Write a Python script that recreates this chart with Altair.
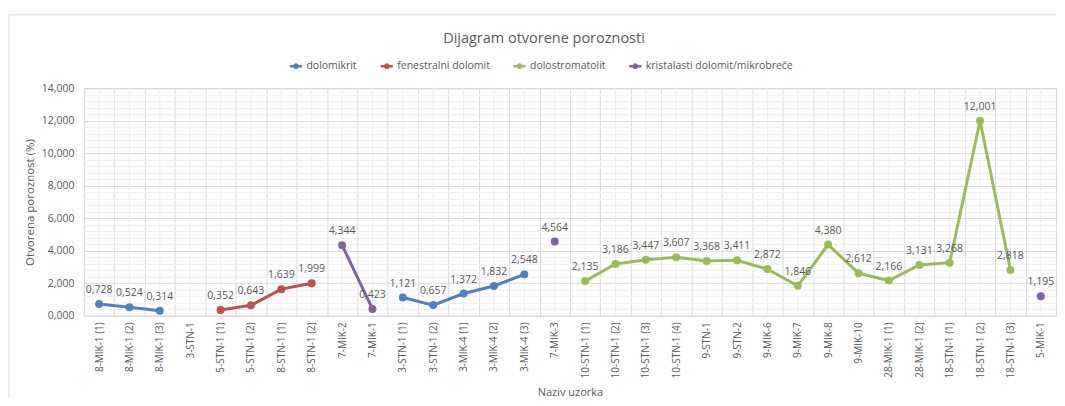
import altair as alt
import pandas as pd
import numpy as np

N = None
categories = ["8-MIK-1 (1)", "8-MIK-1 (2)", "8-MIK-1 (3)", "3-STN-1", "5-STN-1 (1)", "5-STN-1 (2)",
              "8-STN-1 (1)", "8-STN-1 (2)", "7-MIK-2", "7-MIK-1", "3-STN-1 (1)", "3-STN-1 (2)",
              "3-MIK-4 (1)", "3-MIK-4 (2)", "3-MIK-4 (3)", "7-MIK-3", "10-STN-1 (1)", "10-STN-1 (2)",
              "10-STN-1 (3)", "10-STN-1 (4)", "9-STN-1", "9-STN-2", "9-MIK-6", "9-MIK-7", "9-MIK-8",
              "9-MIK-10", "28-MIK-1 (1)", "28-MIK-1 (2)", "18-STN-1 (1)", "18-STN-1 (2)",
              "18-STN-1 (3)", "5-MIK-1"]

dolomikrit = [0.728, 0.524, 0.314, N, N, N, N, N, N, N,
              1.121, 0.657, 1.372, 1.832, 2.548] + [N] * 17
fenestralni = [N] * 4 + [0.352, 0.643, 1.639, 1.999] + [N] * 24
dolostromatolit = [N] * 16 + [2.135, 3.186, 3.447, 3.607, 3.368, 3.411, 2.872, 1.846,
                              4.380, 2.612, 2.166, 3.131, 3.268, 12.001, 2.818] + [N]
kristalasti = [N] * 8 + [4.344, 0.423] + [N] * 5 + [4.564] + [N] * 15 + [1.195]

series_names = ["dolomikrit", "fenestralni dolomit", "dolostromatolit", "kristalasti dolomit/mikrobreče"]
series_values = [dolomikrit, fenestralni, dolostromatolit, kristalasti]
series_colors = ["#4F81BD", "#C0504D", "#9BBB59", "#8064A2"]

rows = []
for name, vals in zip(series_names, series_values):
    seg = 0
    prev = False
    for i, v in enumerate(vals):
        if v is None:
            prev = False
            continue
        if not prev:
            seg += 1
        prev = True
        rows.append({"cat": categories[i], "series": name, "value": v,
                     "seg": f"{name}-{seg}", "label": f"{v:.3f}".replace(".", ",")})
df = pd.DataFrame(rows)
cat_df = pd.DataFrame({"cat": categories})

W, H = 974, 228
TXT = "#595959"
FONT = "Open Sans"

xscale = alt.Scale(type="band", domain=categories, paddingInner=0, paddingOuter=0)
yscale = alt.Scale(domain=[0, 14], nice=False)
ytick_values = [round(v, 1) for v in np.arange(0, 14.001, 0.4)]

x_axis = alt.Axis(title="Naziv uzorka", labelAngle=-90, tickBand="extent", grid=True,
                  gridColor="#d9d9d9", ticks=False, domainColor="#d9d9d9",
                  labelPadding=6, labelFontSize=10, labelColor=TXT, labelFont=FONT,
                  titleFontSize=11, titleColor=TXT, titleFont=FONT,
                  titleFontWeight="normal", titlePadding=9, labelOverlap=False)
x_enc = alt.X("cat:N", sort=categories, scale=xscale, axis=x_axis)
y_enc = alt.Y("value:Q", scale=yscale,
              axis=alt.Axis(title="Otvorena poroznost (%)", values=ytick_values,
                            labelExpr="datum.value % 2 == 0 ? replace(format(datum.value, '.3f'), '.', ',') : ''",
                            labelOverlap=False, ticks=False, domain=False,
                            gridColor={"condition": {"test": "datum.value % 2 == 0", "value": "#d9d9d9"},
                                       "value": "#efefef"},
                            labelPadding=10, labelFontSize=10.5, labelColor=TXT, labelFont=FONT,
                            titleFontSize=11.5, titleColor=TXT, titleFont=FONT,
                            titleFontWeight="normal", titlePadding=6))

color_scale = alt.Scale(domain=series_names, range=series_colors)
legend_symbol = "M-1,0H1M-0.27,0A0.27,0.27 0 1,1 0.27,0A0.27,0.27 0 1,1 -0.27,0Z"
legend = alt.Legend(orient="none", legendX=205, legendY=-30,
                    direction="horizontal", title=None,
                    symbolType=legend_symbol, symbolSize=150,
                    symbolStrokeWidth=2.5, labelFontSize=10.5,
                    labelColor=TXT, labelFont=FONT, columnPadding=18,
                    labelOffset=3)
color_enc = alt.Color("series:N", scale=color_scale, sort=series_names, legend=legend)
stroke_enc = alt.Stroke("series:N", scale=color_scale, sort=series_names, legend=legend)

minor_x = alt.Chart(cat_df).mark_rule(color="#efefef", strokeWidth=1).encode(
    x=x_enc, y=alt.value(0), y2=alt.value(H))

lines = alt.Chart(df).mark_line(strokeWidth=3).encode(
    x=x_enc, y=y_enc, color=color_enc, detail="seg:N")

points = alt.Chart(df).mark_point(filled=True, size=36, opacity=1).encode(
    x=x_enc, y=y_enc, color=color_enc, stroke=stroke_enc)

labels = alt.Chart(df).mark_text(dy=-14, fontSize=10.5, color=TXT, font=FONT).encode(
    x=x_enc, y=y_enc, text="label:N")

border_df = pd.DataFrame({"k": [0]})
border_left = alt.Chart(border_df).mark_rule(color="#d9d9d9", strokeWidth=1).encode(
    x=alt.value(-75), y=alt.value(-73.5), y2=alt.value(H + 82))
border_top = alt.Chart(border_df).mark_rule(color="#d9d9d9", strokeWidth=1).encode(
    x=alt.value(-75), x2=alt.value(W), y=alt.value(-73.5))

chart = alt.layer(minor_x, lines, points, labels, border_left, border_top).properties(
    width=W, height=H,
    padding={"left": 0, "top": 6, "right": 0, "bottom": 0},
    title=alt.TitleParams("Dijagram otvorene poroznosti", fontSize=14.5, color=TXT, font=FONT,
                          fontWeight="normal", anchor="middle", dx=-26, dy=36.5),
).configure_view(stroke=None).configure(font=FONT)

chart.save("out.html", embed_options={"renderer": "svg", "actions": False})
